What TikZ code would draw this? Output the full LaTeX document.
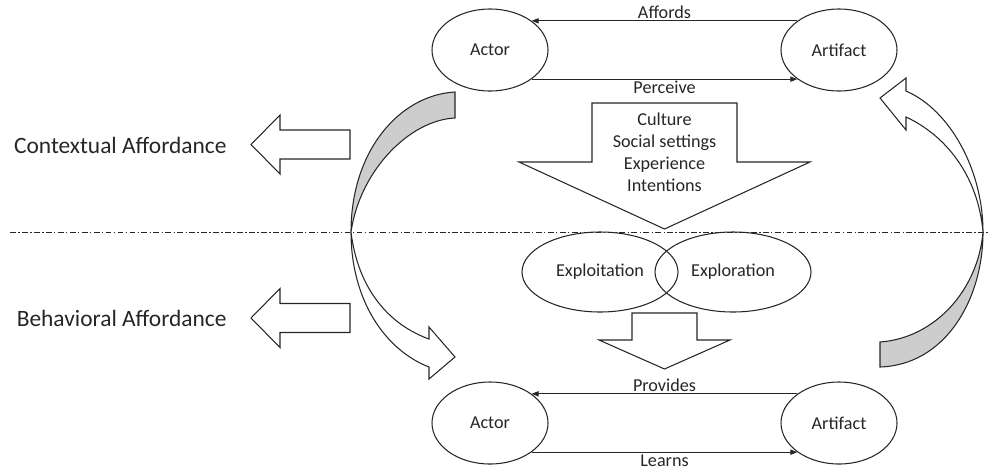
\documentclass[tikz,border=0pt]{standalone}
\usepackage{fontspec}
\setmainfont{Carlito}
\usetikzlibrary{shapes.geometric,arrows.meta}
\definecolor{bandgray}{RGB}{205,205,205}
\definecolor{inkgray}{RGB}{38,38,38}

\begin{document}
\begin{tikzpicture}[x=0.03cm,y=-0.03cm,line width=0.9pt,draw=black!85,
    font=\fontsize{15.5}{18.7}\selectfont,
    oval/.style={draw,ellipse,inner sep=0pt,minimum width=3.48cm,minimum height=2.46cm,text=inkgray},
    flow/.style={-{Triangle[length=6pt,width=4.5pt]}},
    lbl/.style={text=inkgray,inner sep=1.5pt},
    block/.style={draw,line join=miter},
    side/.style={text=inkgray,font=\fontsize{20}{24}\selectfont,anchor=east}]
    \useasboundingbox (0,0) rectangle (989,467);

    % level line
    \draw[line width=0.7pt,dash pattern=on 5pt off 2pt on 1.2pt off 2pt](10,232)--(989,232);

    \node[oval](act1)at(490,50){Actor};
    \node[oval](art1)at(839,50){Artifact};
    \node[oval](act2)at(490,423){Actor};
    \node[oval](art2)at(839,423){Artifact};
    \node[oval,minimum width=4.68cm,minimum height=2.4cm](exploit)at(600,272){Exploitation};
    \node[oval,minimum width=4.68cm,minimum height=2.4cm](explore)at(733,272){Exploration};

    \draw[flow](art1.145)--node[lbl,above]{Affords}(act1.35);
    \draw[flow](act1.-35)--node[lbl,below]{Perceive}(art1.-145);
    \draw[flow](art2.145)--node[lbl,above]{Provides}(act2.35);
    \draw[flow](act2.-35)--node[lbl,below]{Learns}(art2.-145);

    % block arrows
    \draw[block](592,103)--(737,103)--(737,162)--(810,162)--(664.5,229)--(519,162)--(592,162)--cycle;
    \node[align=center,text=inkgray](factors)at(664.5,152){Culture\\Social settings\\Experience\\Intentions};
    \draw[block](632,313)--(697,313)--(697,340)--(730,340)--(664.5,369)--(599,340)--(632,340)--cycle;
    \foreach \y in {144.5,318}
        \draw[block](350,\y-14.5)--(350,\y+14.5)--(280,\y+14.5)--(280,\y+29.5)--(251,\y)--(280,\y-29.5)--(280,\y-14.5)--cycle;

    \node[side](context)at(231,145){Contextual Affordance};
    \node[side](behave)at(231,318){Behavioral Affordance};

    % bent arrows
    \filldraw[fill=bandgray,line join=miter](455,92)..controls(400,95)and(351,150)..(351,232)
        ..controls(360,170)and(410,120)..(455,118)--cycle;
    \draw[line join=miter](351,232)..controls(351,300)and(385,350)..(429,367)--(429,379)--(455,357)
        --(429,327)--(429,339)..controls(390,325)and(358,290)..(351,232);
    \filldraw[fill=bandgray,line join=miter](880,367)..controls(945,365)and(983,300)..(983,232)
        ..controls(978,290)and(935,338)..(880,342)--cycle;
    \draw[line join=miter](983,232)..controls(983,170)and(950,110)..(906,91)--(906,78)--(880,98)
        --(906,130)--(906,117)..controls(945,135)and(978,175)..(983,232);
\end{tikzpicture}
\end{document}
